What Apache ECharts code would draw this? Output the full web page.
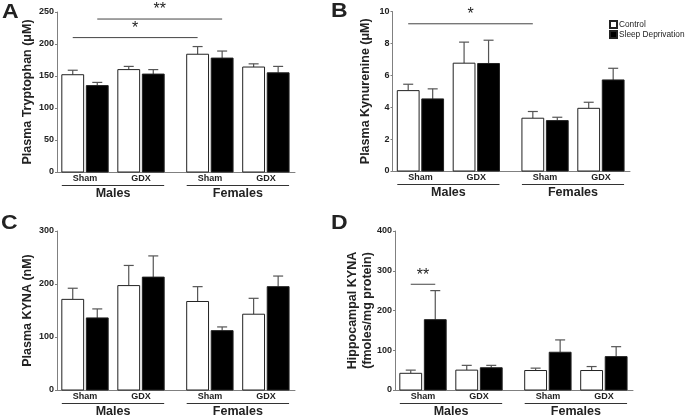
<!DOCTYPE html>
<html>
<head>
<meta charset="utf-8">
<script src="https://cdn.jsdelivr.net/npm/echarts@6/dist/echarts.min.js"></script>
<style>html,body{margin:0;padding:0;background:#fff;}#chart{width:685px;height:418px;}</style>
</head>
<body>
<div id="chart"></div>
<script>
// ---------- data ----------
const sexes = ['Males', 'Females'];
const treatments = ['Sham', 'GDX'];
const seriesNames = ['Control', 'Sleep Deprivation'];
const panelLetters = ['A', 'B', 'C', 'D'];

// order of groups: Males Sham, Males GDX, Females Sham, Females GDX
const trpControl = [152, 160, 184, 164];
const trpControlErr = [7, 5, 12, 5];
const trpSD = [135, 153, 178, 155];
const trpSDErr = [5, 7, 11, 10];

const kynControl = [5.04, 6.76, 3.31, 3.93];
const kynControlErr = [0.40, 1.32, 0.42, 0.38];
const kynSD = [4.52, 6.74, 3.16, 5.71];
const kynSDErr = [0.63, 1.46, 0.21, 0.73];

const kynaControl = [171, 197, 167, 143];
const kynaControlErr = [21, 38, 28, 30];
const kynaSD = [136, 213, 112, 195];
const kynaSDErr = [17, 40, 7, 20];

const hipControl = [42, 50, 49, 49];
const hipControlErr = [8, 12, 6, 10];
const hipSD = [177, 56, 95, 84];
const hipSDErr = [73, 6, 31, 25];

const yTicksA = [0, 250, 50];
const yTicksB = [0, 10, 2];
const yTicksC = [0, 300, 100];
const yTicksD = [0, 400, 100];

// significance: [group1, side1(0=Control,1=SD), group2, side2, height, label]
const sigA = [[0, 0, 2, 0, 210, '*'], [0, 1, 2, 1, 239, '**']];
const sigB = [[0, 0, 2, 0, 9.23, '*']];
const sigC = [];
const sigD = [[0, 0, 0, 1, 266, '**']];

// ---------- layout helpers ----------
const SEX_GAP = 0.23, HALF_PITCH = 0.219, BAR_W = 0.39, X_MAX = 4.25;
function groupCenter(g) { return g + 0.5 + (g >= 2 ? SEX_GAP : 0); }
function barCenter(g, side) { return groupCenter(g) + (side === 0 ? -HALF_PITCH : HALF_PITCH); }

const FONT = 'Liberation Sans, Arial, Helvetica, sans-serif';
const TXT = '#222';
const AX = '#808080';

const panels = [
  { grid: { left: 57, top: 12, width: 238, height: 160 }, ticks: yTicksA, name: 'Plasma Tryptophan (\u03bcM)', gap: 22,
    c: trpControl, ce: trpControlErr, s: trpSD, se: trpSDErr, sig: sigA, lx: 2, ly: 2.5 },
  { grid: { left: 392.5, top: 11.5, width: 237.5, height: 159.5 }, ticks: yTicksB, name: 'Plasma Kynurenine (\u03bcM)', gap: 19,
    c: kynControl, ce: kynControlErr, s: kynSD, se: kynSDErr, sig: sigB, lx: 331, ly: 1.5 },
  { grid: { left: 57, top: 231, width: 238, height: 159 }, ticks: yTicksC, name: 'Plasma KYNA (nM)', gap: 22,
    c: kynaControl, ce: kynaControlErr, s: kynaSD, se: kynaSDErr, sig: sigC, lx: 1, ly: 213.5 },
  { grid: { left: 395, top: 231, width: 238, height: 159 }, ticks: yTicksD, name: 'Hippocampal KYNA\n(fmoles/mg protein)', gap: 20,
    c: hipControl, ce: hipControlErr, s: hipSD, se: hipSDErr, sig: sigD, lx: 331, ly: 213.5 }
];

const grids = [], xAxes = [], yAxes = [], series = [], graphics = [];

panels.forEach((p, i) => {
  grids.push(Object.assign({ containLabel: false }, p.grid));
  xAxes.push({ type: 'value', gridIndex: i, min: 0, max: X_MAX,
    axisLine: { show: true, lineStyle: { color: AX, width: 1 } },
    axisTick: { show: false }, axisLabel: { show: false }, splitLine: { show: false } });
  yAxes.push({ type: 'value', gridIndex: i, min: p.ticks[0], max: p.ticks[1], interval: p.ticks[2],
    name: p.name, nameLocation: 'middle', nameGap: p.gap, nameRotate: 90, nameMoveOverlap: false,
    nameTextStyle: { fontFamily: FONT, fontWeight: 'bold', fontSize: 12.5, color: TXT, lineHeight: 15 },
    axisLine: { show: true, lineStyle: { color: AX, width: 1 } },
    axisTick: { show: true, length: 2, lineStyle: { color: AX } },
    axisLabel: { fontFamily: FONT, fontWeight: 'bold', fontSize: 9, color: TXT, margin: 3 },
    splitLine: { show: false } });
  graphics.push({ type: 'text', x: p.lx, y: p.ly, scaleX: 1.15, silent: true,
    style: { text: panelLetters[i], font: 'bold 20px ' + FONT, fill: TXT, verticalAlign: 'top', align: 'left' } });

  const mk = (name, side, vals, errs, fill) => ({
    type: 'custom', name: name, xAxisIndex: i, yAxisIndex: i,
    itemStyle: { color: fill, borderColor: '#222', borderWidth: 1 },
    data: vals.map((v, g) => [g, v, errs[g]]),
    renderItem: function (params, api) {
      const g = api.value(0), v = api.value(1), e = api.value(2);
      const cx = barCenter(g, side);
      const top = api.coord([cx, v]);
      const base = api.coord([cx, 0]);
      const et = api.coord([cx, v + e]);
      const w = api.size([BAR_W, 0])[0];
      const capHalf = 5;
      return { type: 'group', children: [
        { type: 'line', shape: { x1: top[0], y1: top[1], x2: et[0], y2: et[1] }, style: { stroke: '#555', lineWidth: 1.2 } },
        { type: 'line', shape: { x1: et[0] - capHalf, y1: et[1], x2: et[0] + capHalf, y2: et[1] }, style: { stroke: '#555', lineWidth: 1.2 } },
        { type: 'rect', shape: { x: top[0] - w / 2, y: top[1], width: w, height: base[1] - top[1] },
          style: { fill: fill, stroke: '#222', lineWidth: 1 } }
      ] };
    }
  });
  series.push(mk(seriesNames[0], 0, p.c, p.ce, '#ffffff'));
  series.push(mk(seriesNames[1], 1, p.s, p.se, '#000000'));

  // treatment labels
  series.push({ type: 'custom', xAxisIndex: i, yAxisIndex: i, silent: true, clip: false,
    data: [0, 1, 2, 3].map(g => [g, treatments[g % 2]]),
    renderItem: function (params, api) {
      const g = api.value(0);
      const pt = api.coord([groupCenter(g), p.ticks[0]]);
      return { type: 'text', x: pt[0], y: pt[1] + 6.5,
        style: { text: treatments[g % 2], fontFamily: FONT, fontWeight: 'bold', fontSize: 9, fill: TXT, align: 'center', verticalAlign: 'middle' } };
    } });
  // sex labels with underline
  series.push({ type: 'custom', xAxisIndex: i, yAxisIndex: i, silent: true, clip: false,
    data: sexes.map((s, k) => [k, s]),
    renderItem: function (params, api) {
      const k = api.value(0);
      const x1 = barCenter(2 * k, 0) - BAR_W / 2;
      const x2 = barCenter(2 * k + 1, 1) + BAR_W / 2;
      const a = api.coord([x1, p.ticks[0]]);
      const b = api.coord([x2, p.ticks[0]]);
      return { type: 'group', children: [
        { type: 'line', shape: { x1: a[0], y1: a[1] + 13.5, x2: b[0], y2: b[1] + 13.5 }, style: { stroke: '#333', lineWidth: 1 } },
        { type: 'text', x: (a[0] + b[0]) / 2, y: a[1] + 22,
          style: { text: sexes[k], fontFamily: FONT, fontWeight: 'bold', fontSize: 12.5, fill: TXT, align: 'center', verticalAlign: 'middle' } }
      ] };
    } });
  // significance
  if (p.sig.length) {
    series.push({ type: 'custom', xAxisIndex: i, yAxisIndex: i, silent: true, clip: false,
      data: p.sig,
      renderItem: function (params, api) {
        const d = p.sig[params.dataIndex];
        const a = api.coord([barCenter(d[0], d[1]), d[4]]);
        const b = api.coord([barCenter(d[2], d[3]), d[4]]);
        return { type: 'group', children: [
          { type: 'line', shape: { x1: a[0], y1: a[1], x2: b[0], y2: b[1] }, style: { stroke: '#444', lineWidth: 1 } },
          { type: 'text', x: (a[0] + b[0]) / 2, y: a[1] - 1,
            style: { text: d[5], fontFamily: FONT, fontSize: 16, fill: TXT, align: 'center', verticalAlign: 'bottom' } }
        ] };
      } });
  }
});

const chart = echarts.init(document.getElementById('chart'), null, { renderer: 'canvas' });
chart.setOption({
  animation: false,
  backgroundColor: '#ffffff',
  graphic: graphics,
  legend: { data: seriesNames, orient: 'vertical', left: 609, top: 20, padding: 0, itemWidth: 7, itemHeight: 7, itemGap: 1, icon: 'rect',
    textStyle: { fontFamily: FONT, fontSize: 8.3, color: '#222', padding: [0, 0, 0, -3] } },
  grid: grids,
  xAxis: xAxes,
  yAxis: yAxes,
  series: series
});
</script>
</body>
</html>
